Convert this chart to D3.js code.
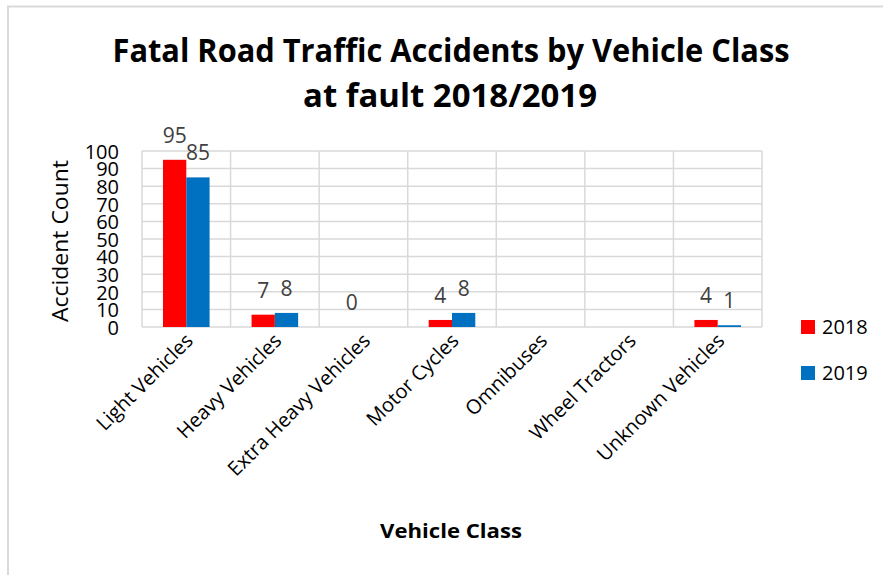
<!DOCTYPE html>
<html>
<head>
<meta charset="utf-8">
<script src="https://cdn.jsdelivr.net/npm/d3@7"></script>
<style>
  body { margin: 0; background: #fff; }
  svg { display: block; font-family: "Open Sans", "Noto Sans", sans-serif; }
</style>
</head>
<body>
<div id="vis"></div>
<script>
const FRAME_WIDTH = 883;
const FRAME_HEIGHT = 575;

// chart data
const CATEGORIES = ["Light Vehicles", "Heavy Vehicles", "Extra Heavy Vehicles",
  "Motor Cycles", "Omnibuses", "Wheel Tractors", "Unknown Vehicles"];
const SERIES = ["2018", "2019"];
const VALUES_2018 = [95, 7, 0, 4, null, null, 4];
const VALUES_2019 = [85, 8, null, 8, null, null, 1];
const Y_TICKS = [0, 10, 20, 30, 40, 50, 60, 70, 80, 90, 100];
const COLORS = ["#ff0000", "#0070c0"];

const PLOT = {left: 142, right: 762, top: 151, bottom: 327};

const svg = d3.select("#vis")
  .append("svg")
  .attr("width", FRAME_WIDTH)
  .attr("height", FRAME_HEIGHT);

// outer chart border (only top & left visible)
svg.append("path")
  .attr("d", "M8,575 V6.5 H883")
  .attr("fill", "none")
  .attr("stroke", "#d9d9d9")
  .attr("stroke-width", 2);

const X0 = d3.scaleBand()
  .domain(CATEGORIES)
  .range([PLOT.left, PLOT.right]);

const X1 = d3.scaleBand()
  .domain(SERIES)
  .range([X0.bandwidth() * 0.237, X0.bandwidth() * 0.763]);

const Y = d3.scaleLinear()
  .domain([0, 100])
  .range([PLOT.bottom, PLOT.top]);

// horizontal gridlines
svg.append("g")
  .selectAll("line")
  .data(Y_TICKS)
  .enter()
  .append("line")
    .attr("x1", PLOT.left)
    .attr("x2", PLOT.right)
    .attr("y1", d => Y(d))
    .attr("y2", d => Y(d))
    .attr("stroke", "#d9d9d9")
    .attr("stroke-width", 1.5);

// vertical gridlines at category boundaries
const bounds = CATEGORIES.map(c => X0(c)).concat([PLOT.right]);
svg.append("g")
  .selectAll("line")
  .data(bounds)
  .enter()
  .append("line")
    .attr("x1", d => d)
    .attr("x2", d => d)
    .attr("y1", PLOT.top)
    .attr("y2", PLOT.bottom)
    .attr("stroke", "#d9d9d9")
    .attr("stroke-width", 1.5);

// y axis labels (packed tight, like the original)
const yAxis = svg.append("g")
  .attr("transform", `translate(${PLOT.left - 23},0)`)
  .call(d3.axisLeft(Y).tickValues(Y_TICKS).tickSize(0).tickPadding(0));
yAxis.select(".domain").remove();
yAxis.selectAll("text")
  .attr("font-size", 20)
  .attr("fill", "#000")
  .attr("font-family", "'Open Sans', sans-serif")
  .attr("dy", "0.36em");

// bars
const table = CATEGORIES.map((c, i) => ({cat: c, vals: [VALUES_2018[i], VALUES_2019[i]]}));

const groups = svg.append("g")
  .selectAll("g")
  .data(table)
  .enter()
  .append("g")
    .attr("transform", d => `translate(${X0(d.cat)},0)`);

groups.selectAll("rect")
  .data(d => d.vals.map((v, j) => ({s: SERIES[j], v: v, j: j})).filter(e => e.v !== null))
  .enter()
  .append("rect")
    .attr("x", d => X1(d.s))
    .attr("width", X1.bandwidth())
    .attr("y", d => Y(d.v))
    .attr("height", d => PLOT.bottom - Y(d.v))
    .attr("fill", d => COLORS[d.j]);

// data labels
groups.selectAll("text")
  .data(d => d.vals.map((v, j) => ({s: SERIES[j], v: v, j: j})).filter(e => e.v !== null))
  .enter()
  .append("text")
    .attr("x", d => X1(d.s) + X1.bandwidth() / 2)
    .attr("y", d => Y(d.v) - 17)
    .attr("text-anchor", "middle")
    .attr("font-size", 21)
    .attr("fill", "#404040")
    .text(d => d.v);

// x category labels, rotated
svg.append("g")
  .selectAll("text")
  .data(CATEGORIES)
  .enter()
  .append("text")
    .attr("transform", d => `translate(${X0(d) + X0.bandwidth() / 2 + 8},${PLOT.bottom + 15}) rotate(-45)`)
    .attr("text-anchor", "end")
    .attr("font-size", 20)
    .attr("fill", "#000")
    .text(d => d);

// title
svg.append("text")
  .attr("x", 451)
  .attr("y", 62)
  .attr("text-anchor", "middle")
  .attr("font-size", 32)
  .attr("font-weight", "bold")
  .attr("textLength", 677)
  .attr("lengthAdjust", "spacingAndGlyphs")
  .text("Fatal Road Traffic Accidents by Vehicle Class");

svg.append("text")
  .attr("x", 450)
  .attr("y", 107)
  .attr("text-anchor", "middle")
  .attr("font-size", 32)
  .attr("font-weight", "bold")
  .attr("textLength", 294)
  .attr("lengthAdjust", "spacingAndGlyphs")
  .text("at fault 2018/2019");

// axis titles
svg.append("text")
  .attr("transform", "translate(68,241) rotate(-90)")
  .attr("text-anchor", "middle")
  .attr("font-size", 21)
  .attr("textLength", 162)
  .attr("lengthAdjust", "spacingAndGlyphs")
  .text("Accident Count");

svg.append("text")
  .attr("x", 451)
  .attr("y", 538)
  .attr("text-anchor", "middle")
  .attr("font-size", 20)
  .attr("font-weight", "bold")
  .attr("textLength", 142)
  .attr("lengthAdjust", "spacingAndGlyphs")
  .text("Vehicle Class");

// legend
const legend = svg.append("g")
  .selectAll("g")
  .data(SERIES)
  .enter()
  .append("g")
    .attr("transform", (d, i) => `translate(801,${320 + i * 46})`);

legend.append("rect")
  .attr("width", 14)
  .attr("height", 14)
  .attr("fill", (d, i) => COLORS[i]);

legend.append("text")
  .attr("x", 21)
  .attr("y", 14)
  .attr("font-size", 20)
  .text(d => d);
</script>
</body>
</html>
